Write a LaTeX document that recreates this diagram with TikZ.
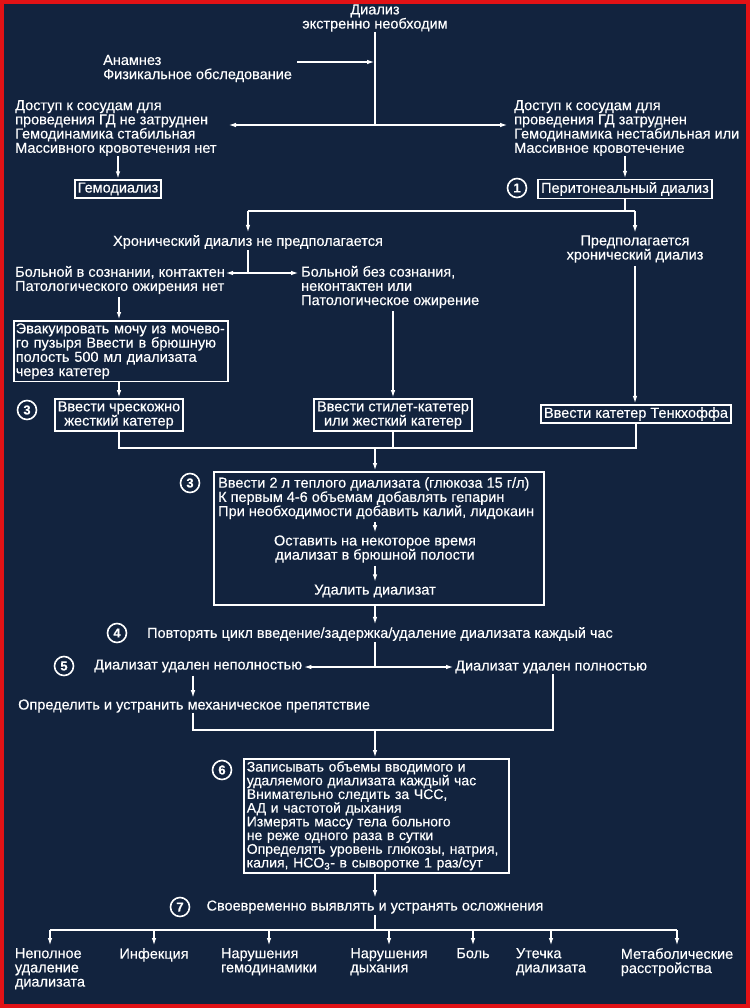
\documentclass[tikz,border=0pt]{standalone}
\usepackage{fontspec}
\setmainfont[FakeBold=0.3]{Liberation Sans}
\usetikzlibrary{arrows.meta,calc}
\definecolor{navy}{RGB}{18,35,62}
\definecolor{bred}{RGB}{225,18,22}
\newcommand\fs{\fontsize{14.5}{14.2}\selectfont}
\begin{document}
\begin{tikzpicture}[x=1pt,y=-1pt,
 every node/.style={text=white,font=\fs},
 txt/.style={inner sep=0pt,align=left},
 ctxt/.style={inner sep=0pt,align=center},
 bx/.style={draw=white,line width=1.6pt,inner xsep=3pt,inner ysep=2.5pt},
 num/.style={draw=white,circle,line width=1.6pt,minimum size=19pt,inner sep=0pt,font=\fontsize{13}{13}\selectfont\bfseries},
 ln/.style={draw=white,line width=1.8pt},
 arr/.style={ln,-{Latex[length=8pt,width=4.5pt]}},
]
\fill[bred] (0,0) rectangle (750,1008);
\fill[navy] (4,4) rectangle (746,1004);
\useasboundingbox (0,0) rectangle (750,1008);

% top
\node[ctxt] (top) at (375,18) {Диализ\\экстренно необходим};
\coordinate (j1) at (375,125);
\node[txt,anchor=west] (anam) at (103,68.5) {Анамнез\\Физикальное обследование};
\coordinate (a1) at (297,62);
\draw[ln] (top.south) -- (j1);
\draw[arr] (a1) -- (a1 -| top.south);

\node[txt,anchor=west] (lb) at (15,128) {Доступ к сосудам для\\проведения ГД не затруднен\\Гемодинамика стабильная\\Массивного кровотечения нет};
\node[txt,anchor=west] (rb) at (514,128) {Доступ к сосудам для\\проведения ГД затруднен\\Гемодинамика нестабильная или\\Массивное кровотечение};
\coordinate (tl) at (228,125);
\coordinate (tr) at (508,125);
\draw[arr] (j1) -- (tl);
\draw[arr] (j1) -- (tr);

\node[bx] (hemo) at (118,189) {Гемодиализ};
\node[bx] (perit) at (625,189) {Перитонеальный диализ};
\node[num] (n1) at (517,188) {1};
\draw[arr] (lb.south -| hemo.north) -- (hemo.north);
\draw[arr] (rb.south -| perit.north) -- (perit.north);

\coordinate (j2L) at (248,211);
\coordinate (j2R) at (635,211);
\draw[ln] (perit.south) -- (perit.south |- j2L);
\draw[ln] (j2L) -- (j2R);
\node[ctxt] (chron) at (248,242) {Хронический диализ не предполагается};
\node[ctxt] (pred) at (635,249) {Предполагается\\хронический диализ};
\draw[arr,shorten >=2pt] (j2L) -- (chron.north);
\draw[arr,shorten >=2pt] (j2R) -- (pred.north);

\coordinate (j3) at (248,273);
\node[txt,anchor=west] (lb2) at (15,280) {Больной в сознании, контактен\\Патологического ожирения нет};
\node[txt,anchor=west] (rb2) at (301,287) {Больной без сознания,\\неконтактен или\\Патологическое ожирение};
\draw[ln,shorten <=1pt] (chron.south) -- (j3);
\draw[arr] (j3) -- (lb2.east |- j3);
\draw[arr,shorten >=2pt] (j3) -- (rb2.west |- j3);

\node[bx,anchor=north west,inner xsep=2pt,text width=210pt,align=left,minimum height=57pt] (evac) at (13,320) {Эвакуировать мочу из мочево-\\го пузыря Ввести в брюшную\\полость 500 мл диализата\\через катетер};
\node[bx,align=center] (perc) at (119,415) {Ввести чрескожно\\жесткий катетер};
\node[num] (n3a) at (27,410) {3};
\draw[arr,shorten <=3pt] (lb2.south -| perc.north) -- (perc.north |- evac.north);
\draw[arr] (perc.north |- evac.south) -- (perc.north);

\node[bx,align=center] (styl) at (393,415) {Ввести стилет-катетер\\или жесткий катетер};
\draw[arr,shorten <=3pt] (rb2.south -| styl.north) -- (styl.north);
\node[bx] (tenck) at (636,414) {Ввести катетер Тенкхоффа};
\draw[arr,shorten <=3pt] (pred.south) -- (pred.south |- tenck.north);

\coordinate (j4) at (375,448);
\draw[ln] (perc.south) -- (perc.south |- j4) -- (tenck.south |- j4) -- (tenck.south);
\draw[ln] (styl.south) -- (styl.south |- j4);

\node[bx,anchor=north west,minimum width=330pt,minimum height=133pt] (b3) at (213,471) {};
\draw[arr] (j4) -- (j4 |- b3.north);
\node[txt,anchor=north west] (b3a) at (218,477) {Ввести 2 л теплого диализата (глюкоза 15 г/л)\\К первым 4-6 объемам добавлять гепарин\\При необходимости добавить калий, лидокаин};
\node[ctxt] (b3b) at (375,549) {Оставить на некоторое время\\диализат в брюшной полости};
\node[ctxt] (b3c) at (375,591) {Удалить диализат};
\draw[arr,shorten <=3pt,shorten >=2pt] (b3a.south -| b3b.north) -- (b3b.north);
\draw[arr,shorten <=3pt,shorten >=2pt] (b3b.south) -- (b3c.north);
\node[num] (n3b) at (190,483) {3};

\node[ctxt] (rep) at (380,634) {Повторять цикл введение/задержка/удаление диализата каждый час};
\draw[arr,shorten >=2pt] (b3.south -| j4) -- (j4 |- rep.north);
\node[num] (n4) at (117,633) {4};

\coordinate (j5) at (375,667);
\draw[ln,shorten <=1pt] (rep.south -| j5) -- (j5);
\node[txt,anchor=west] (inc) at (94,666) {Диализат удален неполностью};
\node[txt,anchor=west] (com) at (455,667) {Диализат удален полностью};
\draw[arr,shorten >=1pt] (j5) -- (inc.east |- j5);
\draw[arr,shorten >=1pt] (j5) -- (com.west |- j5);
\node[num] (n5) at (64,666) {5};

\coordinate (mx) at (193,730);
\coordinate (mr) at (553,730);
\node[txt,anchor=west] (mech) at (18,706) {Определить и устранить механическое препятствие};
\draw[arr,shorten <=3pt,shorten >=1pt] (inc.south -| mx) -- (mech.north -| mx);
\draw[ln] (mech.south -| mx) -- (mx) -- (mr) -- (com.south -| mr);

\node[bx,anchor=north west,text width=259pt,align=left,font=\fontsize{14}{13.7}\selectfont] (b6) at (243,758) {Записывать объемы вводимого и\\удаляемого диализата каждый час\\Внимательно следить за ЧСС,\\АД и частотой дыхания\\Измерять массу тела больного\\не реже одного раза в сутки\\Определять уровень глюкозы, натрия,\\калия, HCO\textsubscript{3}- в сыворотке 1 раз/сут};
\draw[arr] (j5 |- mx) -- (j5 |- b6.north);
\node[num] (n6) at (222,770) {6};

\node[ctxt] (sv) at (375,907) {Своевременно выявлять и устранять осложнения};
\draw[arr,shorten >=2pt] (b6.south -| j5) -- (j5 |- sv.north);
\node[num] (n7) at (180,907) {7};
\coordinate (hl) at (375,930);
\draw[ln,shorten <=1pt] (sv.south -| hl) -- (hl);

\node[txt,anchor=north] (c1) at (50,948) {Неполное\\удаление\\диализата};
\node[txt,anchor=north] (c2) at (154,948) {Инфекция};
\node[txt,anchor=north] (c3) at (269,948) {Нарушения\\гемодинамики};
\node[txt,anchor=north] (c4) at (389,948) {Нарушения\\дыхания};
\node[txt,anchor=north] (c5) at (473,948) {Боль};
\node[txt,anchor=north] (c6) at (551,948) {Утечка\\диализата};
\node[txt,anchor=north] (c7) at (677,948) {Метаболические\\расстройства};
\draw[ln] (c1.north |- hl) -- (c7.north |- hl);
\foreach \c in {c1,c2,c3,c4,c5,c6,c7}
  \draw[arr,shorten >=2pt] (\c.north |- hl) -- (\c.north);
\end{tikzpicture}
\end{document}
